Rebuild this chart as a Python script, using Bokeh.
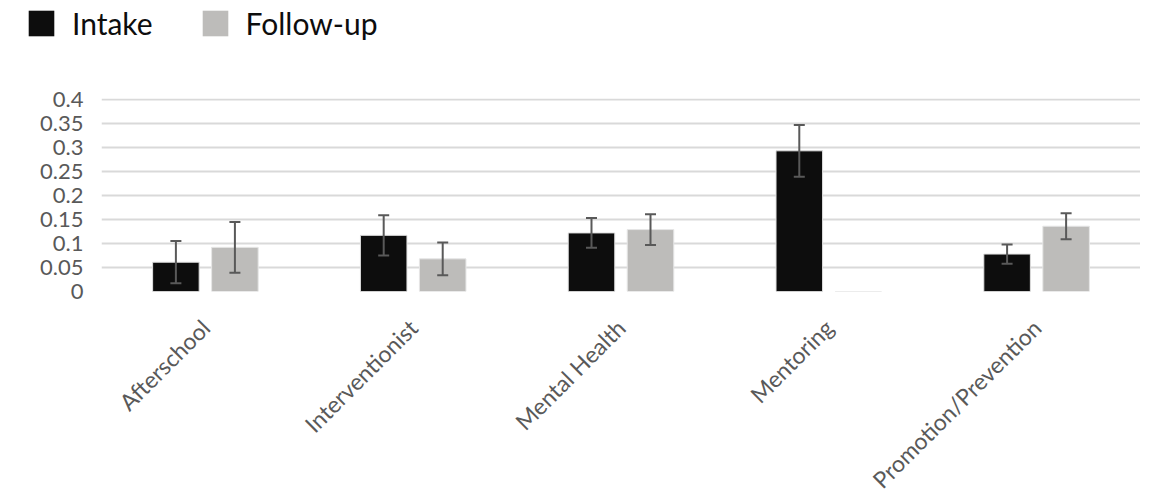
from math import pi
from bokeh.plotting import figure
from bokeh.layouts import column, row
from bokeh.models import ColumnDataSource, FactorRange, Range1d, Whisker, Legend, LegendItem, TeeHead
from bokeh.transform import dodge
from bokeh.embed import file_html
from bokeh.resources import INLINE

categories = ["Afterschool", "Interventionist", "Mental Health", "Mentoring", "Promotion/Prevention"]
intake = [0.061, 0.117, 0.122, 0.293, 0.078]
intake_err = [0.044, 0.042, 0.031, 0.054, 0.020]
followup = [0.092, 0.068, 0.129, 0.0, 0.136]
followup_err = [0.053, 0.034, 0.032, 0.0, 0.027]
series_names = ["Intake", "Follow-up"]
y_ticks = [0, 0.05, 0.1, 0.15, 0.2, 0.25, 0.3, 0.35, 0.4]

FONT = "Lato"
TXT = "#595959"
C_IN = "#0d0d0d"
C_FU = "#bdbcba"

src = ColumnDataSource(dict(cat=categories, intake=intake, followup=followup))

def err_source(vals, errs):
    c = [k for k, v, e in zip(categories, vals, errs) if e > 0]
    lo = [v - e for v, e in zip(vals, errs) if e > 0]
    hi = [v + e for v, e in zip(vals, errs) if e > 0]
    return ColumnDataSource(dict(cat=c, lo=lo, hi=hi))

# ---- legend strip (hidden renderers, legend drawn as if active) ----
lg = figure(width=1140, height=82, output_backend="svg", toolbar_location=None,
            x_range=FactorRange(*categories), y_range=Range1d(0, 1),
            x_axis_type=None, y_axis_type=None,
            min_border_left=0, min_border_right=0, min_border_top=0, min_border_bottom=0)
lg.outline_line_color = None
lg.xgrid.visible = False
lg.ygrid.visible = False
d1 = lg.vbar(x="cat", top="intake", width=0.2, source=src, fill_color=C_IN, line_color=None)
d2 = lg.vbar(x="cat", top="followup", width=0.2, source=src, fill_color=C_FU, line_color=None)
d1.visible = False
d2.visible = False
legend = Legend(items=[LegendItem(label=series_names[0], renderers=[d1]),
                       LegendItem(label=series_names[1], renderers=[d2])],
                orientation="horizontal", location=(25, 41),
                label_text_font=FONT, label_text_font_size="30px", label_text_color="#0d0d0d",
                glyph_width=32, glyph_height=32, spacing=46, label_standoff=15,
                inactive_fill_alpha=0, click_policy="none",
                border_line_color=None, background_fill_alpha=0, margin=0, padding=0)
lg.add_layout(legend, "center")

# ---- main chart ----
p = figure(x_range=FactorRange(*categories, range_padding=0), y_range=(0, 0.402),
           frame_width=1039, frame_height=193, output_backend="svg", toolbar_location=None,
           min_border_left=101, min_border_right=0, min_border_top=16, min_border_bottom=182)
p.outline_line_color = None

off = 0.142
bw = 0.224
r1 = p.vbar(x=dodge("cat", -off, range=p.x_range), top="intake", width=bw, source=src,
            fill_color=C_IN, line_color="#e0e0e0", line_width=1)
r2 = p.vbar(x=dodge("cat", off, range=p.x_range), top="followup", width=bw, source=src,
            fill_color=C_FU, line_color="#e6e6e6", line_width=1)

for vals, errs, o in [(intake, intake_err, -off), (followup, followup_err, off)]:
    es = err_source(vals, errs)
    w = Whisker(source=es, base=dodge("cat", o, range=p.x_range), lower="lo", upper="hi",
                line_color="#595959", line_width=2, level="overlay",
                upper_head=TeeHead(size=11, line_color="#595959", line_width=2),
                lower_head=TeeHead(size=11, line_color="#595959", line_width=2))
    p.add_layout(w)

p.yaxis.ticker = y_ticks
p.yaxis.major_label_overrides = {0: "0", 0.05: "0.05", 0.1: "0.1", 0.15: "0.15", 0.2: "0.2",
                                  0.25: "0.25", 0.3: "0.3", 0.35: "0.35", 0.4: "0.4"}
p.yaxis.axis_line_color = None
p.yaxis.major_tick_line_color = None
p.yaxis.minor_tick_line_color = None
p.yaxis.major_label_text_font = FONT
p.yaxis.major_label_text_font_size = "22px"
p.yaxis.major_label_text_color = TXT
p.yaxis.major_label_standoff = 12

p.xaxis.axis_line_color = None
p.xaxis.major_tick_line_color = None
p.xaxis.major_label_orientation = pi / 4
p.xaxis.major_label_text_font = FONT
p.xaxis.major_label_text_font_size = "23px"
p.xaxis.major_label_text_color = TXT
p.xaxis.major_label_standoff = 26

p.xgrid.grid_line_color = None
p.ygrid.grid_line_color = "#d9d9d9"
p.ygrid.grid_line_width = 2

open("out.html", "w").write(file_html(column(row(lg), row(p), spacing=0), INLINE))
